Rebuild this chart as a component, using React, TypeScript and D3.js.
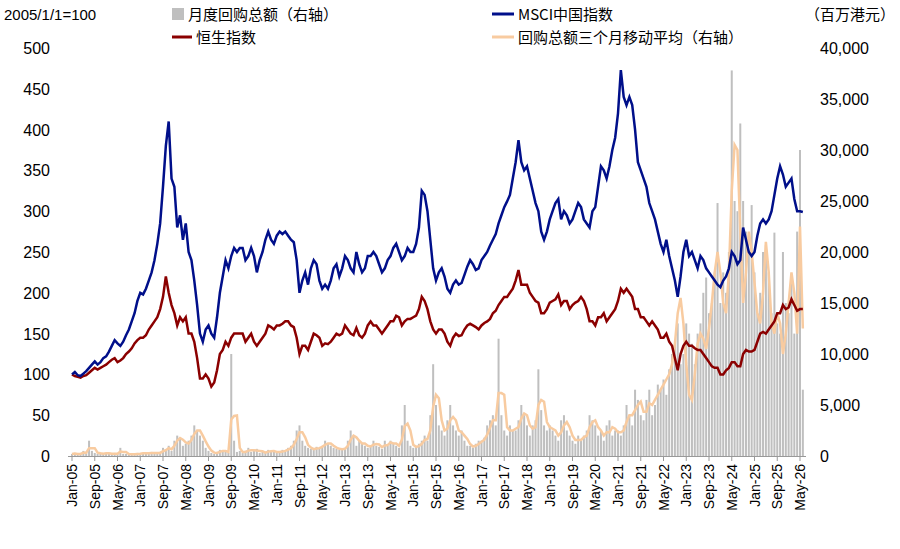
import * as d3 from 'd3'

const START_YEAR = 2005
const MONTHS = ['Jan', 'Feb', 'Mar', 'Apr', 'May', 'Jun', 'Jul', 'Aug', 'Sep', 'Oct', 'Nov', 'Dec']

const msci = [
  100, 103, 99, 98, 101, 104, 108, 112, 116, 112, 115, 120,
  122, 128, 135, 142, 138, 135, 140, 148, 155, 165, 175, 190,
  200, 198, 205, 215, 225, 240, 260, 285, 330, 380, 410, 340,
  330, 280, 295, 265, 285, 250, 240, 215, 185, 150, 140, 155,
  160, 150, 145, 170, 200, 220, 240, 230, 245, 255, 250, 255,
  255, 240, 245, 255, 245, 225, 240, 250, 265, 275, 265, 260,
  270, 275, 272, 275, 270, 265, 262, 240, 200, 215, 225, 210,
  230, 240, 235, 215, 205, 210, 205, 215, 230, 235, 220, 230,
  245, 240, 230, 225, 250, 235, 225, 230, 245, 245, 250, 245,
  235, 225, 230, 240, 245, 255, 260, 250, 240, 245, 255, 250,
  250, 260, 280, 325, 320, 300, 265, 230, 215, 225, 230, 220,
  205, 200, 210, 215, 210, 212, 222, 232, 240, 235, 228, 230,
  240, 245, 250, 258, 265, 272, 285, 295, 305, 312, 320, 340,
  360, 387, 360, 350, 355, 340, 325, 310, 300, 275, 265, 275,
  290, 300, 310, 315, 290, 300, 295, 285, 290, 300, 310, 305,
  290, 285, 280, 300, 305, 330, 355, 350, 340, 355, 375, 390,
  420, 473, 440, 430, 440, 430, 400, 360, 350, 340, 330, 310,
  300, 290, 275, 260, 250, 265, 245, 230, 215, 195, 220, 250,
  265, 245, 250, 240, 230, 245, 240, 230, 225, 220, 215, 210,
  207, 215, 220, 230, 250, 245, 235, 240, 280, 265, 250, 245,
  250, 270, 285, 290, 285, 290, 300, 320, 340, 355, 345, 330,
  335, 340, 315, 300, 300, 299,
]

const hsi = [
  100, 98, 97, 96, 98, 99, 102, 105, 108, 106, 108, 110,
  112, 115, 118, 120, 115, 117, 120, 125, 128, 132, 138, 142,
  145, 145, 148, 155, 160, 165, 170, 180, 195, 220, 200, 185,
  175, 160, 170, 165, 170, 150, 150, 140, 120, 95, 95, 100,
  95, 85, 90, 105, 125, 130, 140, 135, 145, 150, 150, 150,
  150, 140, 145, 150, 140, 135, 140, 145, 150, 160, 158, 155,
  160, 160, 162, 165, 165, 160, 158, 145, 125, 135, 135, 130,
  140, 150, 148, 145, 135, 138, 137, 140, 145, 150, 148, 150,
  160, 155, 150, 148, 157, 148, 145, 150, 160, 165, 160, 160,
  155, 150, 155, 160, 165, 165, 172, 170, 160, 165, 168, 168,
  170, 172, 180, 195, 190, 180, 165, 155, 150, 155, 155, 150,
  140, 135, 145, 150, 147, 148, 155, 160, 162, 160, 158, 155,
  160, 163, 165, 168, 175, 178, 185, 190, 195, 195, 200, 205,
  215, 228, 210, 210, 210, 200, 195, 190, 188, 175, 175, 180,
  188, 190, 192, 198, 185, 190, 190, 180, 185, 188, 190, 195,
  190, 180, 165, 165, 160, 170, 170, 175, 165, 170, 175, 180,
  190, 205, 200, 205, 200, 195, 180, 180, 170, 170, 165, 160,
  165, 160, 155, 145, 145, 150, 140, 135, 120, 105, 125, 135,
  140, 135, 135, 132, 130, 130, 125, 120, 115, 110, 108, 108,
  100, 100, 105, 108, 115, 115, 110, 110, 125, 130, 128, 128,
  130, 140, 150, 152, 150, 155, 160, 165, 175, 175, 185, 180,
  182, 192, 185, 178, 180, 180,
]

const buyback = [
  200, 300, 100, 200, 500, 300, 1500, 500, 300, 200, 300, 200,
  300, 200, 200, 300, 200, 800, 200, 200, 200, 100, 200, 300,
  200, 300, 300, 200, 400, 300, 200, 400, 800, 500, 1000, 500,
  1500, 2000, 1800, 1000, 1200, 1500, 2000, 3000, 2500, 2000, 1500, 800,
  500, 300, 200, 400, 600, 500, 400, 300, 10000, 1500, 400, 500,
  300, 500, 800, 400, 500, 700, 300, 400, 300, 600, 500, 400,
  300, 400, 600, 500, 800, 1000, 1500, 2500, 3000, 1500, 1000, 800,
  700, 600, 900, 800, 1000, 1500, 1200, 1000, 800, 700, 600, 700,
  800, 1500, 2500, 2000, 1000, 1500, 1200, 1000, 800, 1000, 1500, 1000,
  900, 700, 1500, 1000, 1500, 1200, 1000, 800, 3000, 5000, 1500, 1000,
  800, 900, 1200, 1500, 2000, 1500, 4000, 9000, 5000, 3000, 2500, 2000,
  3500, 5000, 3000, 2500, 2000, 2500, 1500, 1000, 1000, 800, 1200, 1500,
  1500, 1800, 3000, 3500, 4000, 3000, 11500, 4000, 2500, 2000, 3000, 2500,
  2500, 3500, 5000, 4000, 3000, 2000, 3000, 3500, 8500, 4500, 3000, 2500,
  3000, 2500, 2000, 1500, 3500, 4000, 2500, 2000, 1500, 1200, 2000, 1500,
  2000, 2500, 4000, 3500, 3000, 2000, 2500, 1500, 3000, 3500, 2000, 2500,
  2500, 2000, 3000, 5000, 4000, 3000, 6500, 5500, 4000, 3500, 5500, 6500,
  4000, 5000, 7000, 6500, 7500, 6000, 8500, 10000, 11000, 13000, 9000, 10000,
  13000, 12000, 11000, 9000, 12000, 13000, 16000, 17500, 14000, 15000, 18000, 24800,
  15000, 18000, 16000, 20000, 37800, 25000, 24000, 32600, 25000, 22000, 20000, 24600,
  18000, 14000, 16000, 20000, 20700, 18000, 14000, 21900, 13000, 12000, 20000, 15000,
  14000, 17000, 12000, 22000, 30000, 6500,
]

const buybackMa3 = [
  200, 250, 200, 200, 330, 330, 770, 770, 770, 330, 270, 230,
  270, 270, 230, 230, 230, 430, 400, 400, 200, 170, 170, 200,
  230, 270, 270, 270, 300, 300, 300, 300, 470, 570, 770, 670,
  1000, 1500, 1770, 1600, 1330, 1230, 1570, 2170, 2500, 2500, 2000, 1430,
  930, 530, 330, 300, 400, 500, 500, 400, 3570, 3930, 3970, 800,
  400, 400, 530, 570, 570, 530, 500, 470, 330, 430, 470, 500,
  400, 400, 430, 500, 630, 770, 1100, 1670, 2330, 2330, 1830, 1100,
  830, 670, 730, 770, 900, 1100, 1230, 1230, 1000, 830, 700, 670,
  700, 1000, 1600, 2000, 1830, 1500, 1230, 1230, 1000, 930, 1100, 1170,
  1130, 870, 1030, 1070, 1330, 1230, 1230, 1000, 1600, 2930, 3170, 2500,
  1100, 900, 970, 1200, 1570, 1670, 2500, 4830, 6000, 5670, 3500, 2500,
  2670, 3500, 3830, 3500, 2500, 2330, 2000, 1670, 1170, 930, 1000, 1170,
  1400, 1600, 2100, 2770, 3500, 3500, 6170, 6170, 6000, 2830, 2500, 2500,
  2670, 2830, 3670, 4170, 4000, 3000, 2670, 2830, 5000, 5500, 5330, 3330,
  2830, 2670, 2500, 2000, 2330, 3000, 3330, 2830, 2000, 1570, 1570, 1570,
  1830, 2000, 2830, 3330, 3500, 2830, 2500, 2000, 2330, 2330, 2830, 2670,
  2330, 2330, 2500, 3330, 4000, 4000, 4500, 5000, 5330, 4330, 4330, 5170,
  5000, 5500, 6000, 6500, 7000, 7500, 8000, 9000, 11000, 14000, 15500, 13000,
  9000, 6000, 5500, 8000, 11000, 12000, 11500, 10500, 12500, 15000, 18000, 20000,
  18000, 15000, 14000, 18000, 26000, 30500, 30000, 22000, 15000, 18000, 22000, 20000,
  17000, 14000, 13000, 16000, 21000, 18000, 13000, 12000, 14000, 13000, 10000, 12000,
  15000, 18000, 16000, 12000, 22500, 12500,
]

const leftTicks = [0, 50, 100, 150, 200, 250, 300, 350, 400, 450, 500]
const rightTicks = [0, 5000, 10000, 15000, 20000, 25000, 30000, 35000, 40000]

const FONT = 'Arial, "Liberation Sans", "Noto Sans CJK SC", sans-serif'
const LBL = '"Noto Sans CJK SC", Arial, sans-serif'

export default function App() {
  const x = d3.scaleLinear().domain([0, 256]).range([72, 800])
  const yL = d3.scaleLinear().domain([0, 500]).range([456, 48])
  const yR = d3.scaleLinear().domain([0, 40000]).range([456, 48])
  const idx = d3.range(msci.length)
  const line = (data: number[], y: d3.ScaleLinear<number, number>) =>
    d3.line<number>().x((i) => x(i)).y((i) => y(data[i]))(idx) as string
  const xLabels = idx.filter((i) => i % 8 === 0 && i <= 256)
  const lbl = (i: number) =>
    `${MONTHS[i % 12]}-${String((START_YEAR + Math.floor(i / 12)) % 100).padStart(2, '0')}`

  return (
    <svg width={900} height={549} style={{ position: 'absolute', left: 0, top: 0, background: '#fff' }}>
      {buyback.map((v, i) => (
        <rect key={i} x={x(i) - 1} y={yR(v)} width={2} height={456 - yR(v)} fill="#bfbfbf" />
      ))}
      <path d={line(buybackMa3, yR)} fill="none" stroke="#f8cba0" strokeWidth={2.5} />
      <path d={line(hsi, yL)} fill="none" stroke="#8b0000" strokeWidth={2.5} />
      <path d={line(msci, yL)} fill="none" stroke="#000f8a" strokeWidth={2.5} />
      <line x1={68} x2={806} y1={456.5} y2={456.5} stroke="#999" />
      {xLabels.map((i) => (
        <g key={i}>
          <line x1={x(i)} x2={x(i)} y1={456} y2={461} stroke="#999" />
          <text transform={`translate(${x(i) + 5},464) rotate(-90)`} textAnchor="end" fontFamily={FONT} fontSize={14} fill="#000">
            {lbl(i)}
          </text>
        </g>
      ))}
      {leftTicks.map((t) => (
        <text key={t} x={50} y={yL(t) + 6} textAnchor="end" fontFamily={FONT} fontSize={16} fill="#000">{t}</text>
      ))}
      {rightTicks.map((t) => (
        <text key={t} x={820} y={yR(t) + 6} fontFamily={FONT} fontSize={16} fill="#000">{d3.format(',')(t)}</text>
      ))}
      <text x={4} y={20} fontFamily={FONT} fontSize={15}>2005/1/1=100</text>
      <rect x={172} y={8} width={12} height={12} fill="#bfbfbf" />
      <text x={188} y={20} fontFamily={LBL} fontSize={15}>月度回购总额（右轴）</text>
      <line x1={172} x2={192} y1={37} y2={37} stroke="#8b0000" strokeWidth={3} />
      <text x={196} y={43} fontFamily={LBL} fontSize={15}>恒生指数</text>
      <line x1={492} x2={514} y1={14} y2={14} stroke="#000f8a" strokeWidth={3} />
      <text x={518} y={20} fontFamily={LBL} fontSize={15}>MSCI中国指数</text>
      <line x1={492} x2={514} y1={37} y2={37} stroke="#f8cba0" strokeWidth={3} />
      <text x={518} y={43} fontFamily={LBL} fontSize={15}>回购总额三个月移动平均（右轴）</text>
      <text x={895} y={20} textAnchor="end" fontFamily={LBL} fontSize={15}>（百万港元）</text>
    </svg>
  )
}
